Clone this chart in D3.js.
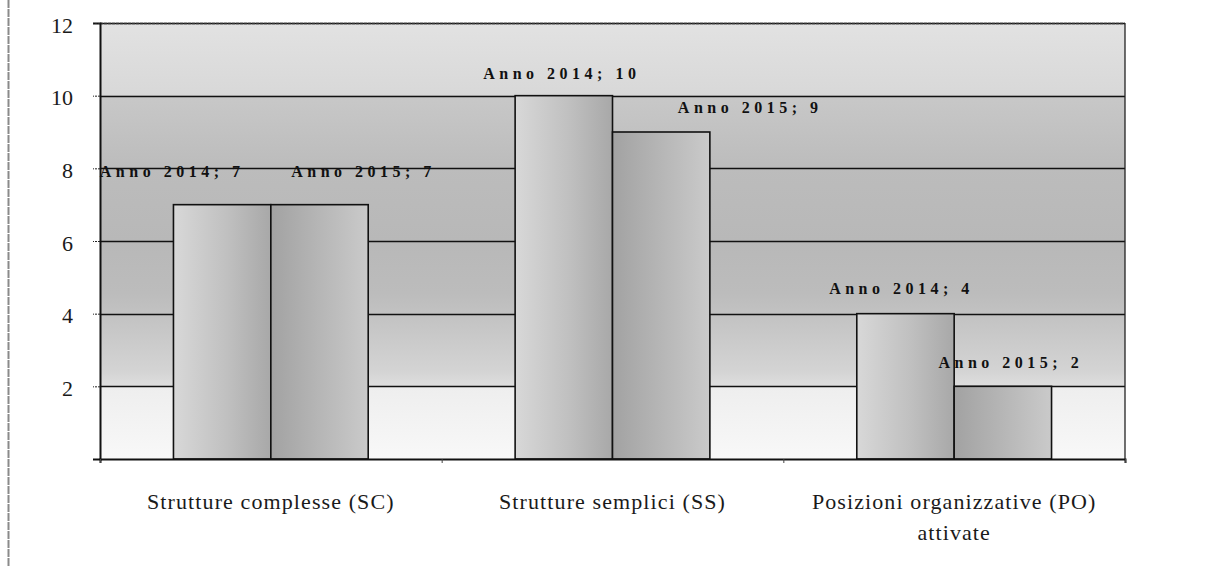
<!DOCTYPE html>
<html>
<head>
<meta charset="utf-8">
<script src="https://cdn.jsdelivr.net/npm/d3@7"></script>
<style>
  html, body { margin: 0; padding: 0; background: #fff; }
  svg { display: block; }
</style>
</head>
<body>
<svg id="chart" width="1216" height="566"></svg>
<script>
// ---- data ----
const categories = [["Strutture complesse (SC)"], ["Strutture semplici (SS)"], ["Posizioni organizzative (PO)", "attivate"]];
const series = ["Anno 2014", "Anno 2015"];
const values2014 = [7, 10, 4];
const values2015 = [7, 9, 2];
const yTicks = [2, 4, 6, 8, 10, 12];

// manual label placement (pixels), like the original hand-moved labels
const labelNudge2014 = [[-50, -28], [-2, -17], [-4, -20]];
const labelNudge2015 = [[44, -28], [89, -19], [8, -18]];

const W = 1216, H = 566;
const margin = { top: 23, right: 91, bottom: 107, left: 100 };
const iw = W - margin.left - margin.right;
const ih = H - margin.top - margin.bottom;

const svg = d3.select("#chart");
const defs = svg.append("defs");

// scan border line at far left
svg.append("line").attr("x1", 8.5).attr("x2", 8.5).attr("y1", 0).attr("y2", H)
  .attr("stroke", "#8a8a8a").attr("stroke-width", 2).attr("stroke-dasharray", "8,1");

const g = svg.append("g").attr("transform", `translate(${margin.left},${margin.top})`);

const x0 = d3.scaleBand().domain(d3.range(categories.length)).range([0, iw])
  .paddingInner(0.43).paddingOuter(0.215);
const x1 = d3.scaleBand().domain(series).range([0, x0.bandwidth()]).padding(0);
const y = d3.scaleLinear().domain([0, 12]).range([ih, 0]);

// plot-area background gradient (vertical)
const bg = defs.append("linearGradient").attr("id", "bg")
  .attr("x1", 0).attr("y1", 0).attr("x2", 0).attr("y2", 1);
const bgStops = [
  [0, "#e2e2e2"], [1/6 - 0.001, "#d8d8d8"], [1/6, "#c8c8c8"], [0.33, "#bcbcbc"],
  [0.5, "#b8b8b8"], [0.62, "#bcbcbc"], [2/3, "#c2c2c2"], [0.8, "#d4d4d4"],
  [5/6 - 0.001, "#dedede"], [5/6, "#eeeeee"], [1, "#f8f8f8"]
];
bgStops.forEach(s => bg.append("stop").attr("offset", s[0]).attr("stop-color", s[1]));

g.append("rect").attr("x", 0).attr("y", 0).attr("width", iw).attr("height", ih)
  .attr("fill", "url(#bg)");

// gridlines
g.append("g").selectAll("line").data(yTicks).join("line")
  .attr("x1", 0).attr("x2", iw)
  .attr("y1", d => Math.round(y(d)) + 0.5).attr("y2", d => Math.round(y(d)) + 0.5)
  .attr("stroke", "#111").attr("stroke-width", 1.3);

// bar gradients
function barGrad(id, stops) {
  const lg = defs.append("linearGradient").attr("id", id)
    .attr("x1", 0).attr("y1", 0).attr("x2", 1).attr("y2", 0);
  stops.forEach(s => lg.append("stop").attr("offset", s[0]).attr("stop-color", s[1]));
}
barGrad("g2014", [[0, "#d8d8d8"], [0.55, "#c0c0c0"], [1, "#a8a8a8"]]);
barGrad("g2015", [[0, "#a2a2a2"], [0.45, "#b4b4b4"], [1, "#cacaca"]]);

const rows = categories.map((c, i) => ({ i, vals: [values2014[i], values2015[i]] }));
const barData = [];
rows.forEach(r => {
  series.forEach((s, k) => barData.push({ i: r.i, s, k, v: r.vals[k],
    nudge: (k === 0 ? labelNudge2014 : labelNudge2015)[r.i] }));
});

g.append("g").selectAll("rect").data(barData).join("rect")
  .attr("x", d => x0(d.i) + x1(d.s))
  .attr("y", d => y(d.v))
  .attr("width", x1.bandwidth())
  .attr("height", d => ih - y(d.v))
  .attr("fill", d => d.k === 0 ? "url(#g2014)" : "url(#g2015)")
  .attr("stroke", "#111").attr("stroke-width", 1.6);

// plot border (top dotted, right solid)
g.append("line").attr("x1", 0).attr("x2", iw).attr("y1", 0.5).attr("y2", 0.5)
  .attr("stroke", "#333").attr("stroke-width", 1.5).attr("stroke-dasharray", "3,1");
g.append("line").attr("x1", iw).attr("x2", iw).attr("y1", 0).attr("y2", ih)
  .attr("stroke", "#222").attr("stroke-width", 1.3);

// y axis
const yAxis = g.append("g")
  .call(d3.axisLeft(y).tickValues(yTicks).tickSize(7).tickPadding(20).tickFormat(d3.format("d")));
yAxis.select(".domain").attr("stroke", "#111").attr("stroke-width", 2);
yAxis.selectAll(".tick line").attr("stroke", "#222").attr("stroke-width", 1).attr("stroke-dasharray", "2,1");
yAxis.selectAll(".tick text")
  .attr("font-family", "'Liberation Serif', 'DejaVu Serif', serif")
  .attr("font-size", 22).attr("fill", "#1a1a1a").attr("dy", "0.42em");

// x axis
const xAxis = g.append("g").attr("transform", `translate(0,${ih})`)
  .call(d3.axisBottom(d3.scaleLinear().domain([0, categories.length]).range([0, iw]))
    .tickValues(d3.range(categories.length + 1)).tickSize(4).tickFormat(""));
xAxis.select(".domain").attr("stroke", "#111").attr("stroke-width", 2);
xAxis.selectAll(".tick line").attr("stroke", "#444");

// category labels
const catG = g.append("g").selectAll("text").data(categories).join("text")
  .attr("text-anchor", "middle")
  .attr("font-family", "'Liberation Serif', 'DejaVu Serif', serif")
  .attr("font-size", 22).attr("letter-spacing", 1.1).attr("fill", "#1a1a1a")
  .attr("transform", (d, i) => `translate(${x0(i) + x0.bandwidth() / 2},${ih + 50})`);
catG.selectAll("tspan").data(d => d).join("tspan")
  .attr("x", 0).attr("dy", (d, j) => j === 0 ? 0 : 31).text(d => d);

// data labels
g.append("g").selectAll("text").data(barData).join("text")
  .attr("x", d => x0(d.i) + x1(d.s) + x1.bandwidth() / 2 + d.nudge[0])
  .attr("y", d => y(d.v) + d.nudge[1])
  .attr("text-anchor", "middle")
  .attr("font-family", "'Liberation Serif', 'DejaVu Serif', serif")
  .attr("font-weight", "bold").attr("font-size", 16).attr("letter-spacing", 4.5)
  .attr("fill", "#111")
  .text(d => `${d.s}; ${d.v}`);
</script>
</body>
</html>
